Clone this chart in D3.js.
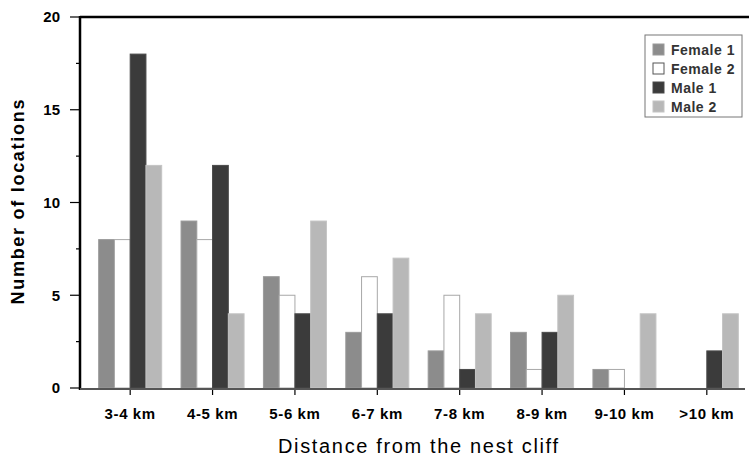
<!DOCTYPE html>
<html>
<head>
<meta charset="utf-8">
<style>
  body { margin: 0; background: #fff; }
  svg { display: block; font-family: "Liberation Sans", Arial, sans-serif; }
</style>
</head>
<body>
<svg></svg>
<script src="https://cdnjs.cloudflare.com/ajax/libs/d3/7.8.5/d3.min.js"></script>
<script>
    // data
    let categories = ["3-4 km", "4-5 km", "5-6 km", "6-7 km", "7-8 km", "8-9 km", "9-10 km", ">10 km"];
    let seriesNames = ["Female 1", "Female 2", "Male 1", "Male 2"];
    let female1 = [8, 9, 6, 3, 2, 3, 1, 0];
    let female2 = [8, 8, 5, 6, 5, 1, 1, 0];
    let male1 = [18, 12, 4, 4, 1, 3, 0, 2];
    let male2 = [12, 4, 9, 7, 4, 5, 4, 4];
    let yTicks = [0, 5, 10, 15, 20];

    let width = 749, height = 457;
    let svg = d3.select("svg").attr("width", width).attr("height", height);

    let series = [female1, female2, male1, male2];
    let fills = ["#8c8c8c", "#ffffff", "#3b3b3b", "#b8b8b8"];
    let strokes = ["#9a9a9a", "#a8a8a8", "#4a4a4a", "#c4c4c4"];

    let x0 = d3.scaleBand().domain(categories).range([89, 748])
        .paddingInner(0.235).paddingOuter(0.1175);
    let x1 = d3.scaleBand().domain(seriesNames).range([0, x0.bandwidth()]);
    let y = d3.scaleLinear().domain([0, 20]).range([388, 17]);

    // bars
    let groups = svg.append("g").selectAll("g")
        .data(categories)
        .enter().append("g")
        .attr("transform", d => "translate(" + x0(d) + ",0)");

    groups.selectAll("rect")
        .data((d, i) => seriesNames.map((s, j) => ({ s: s, j: j, v: series[j][i] })))
        .enter().append("rect")
        .attr("x", d => x1(d.s))
        .attr("y", d => y(d.v))
        .attr("width", x1.bandwidth())
        .attr("height", d => y(0) - y(d.v))
        .attr("fill", d => fills[d.j])
        .attr("stroke", d => strokes[d.j])
        .attr("stroke-width", 1);

    // frame: top line
    svg.append("line")
        .attr("x1", 80).attr("x2", 749)
        .attr("y1", y(20)).attr("y2", y(20))
        .attr("stroke", "#000").attr("stroke-width", 2.5);

    // y axis
    let yAxis = svg.append("g").attr("transform", "translate(80,0)");
    yAxis.append("line")
        .attr("x1", 0).attr("x2", 0).attr("y1", y(20) - 1).attr("y2", y(0) + 2)
        .attr("stroke", "#000").attr("stroke-width", 2.5);
    yAxis.selectAll(".minor")
        .data(d3.range(2.5, 20, 5))
        .enter().append("line")
        .attr("x1", -4).attr("x2", 0)
        .attr("y1", d => y(d)).attr("y2", d => y(d))
        .attr("stroke", "#000").attr("stroke-width", 1.2);
    yAxis.selectAll(".major")
        .data(yTicks)
        .enter().append("line")
        .attr("x1", -10).attr("x2", 0)
        .attr("y1", d => y(d)).attr("y2", d => y(d))
        .attr("stroke", "#000").attr("stroke-width", 1.2);
    yAxis.selectAll("text")
        .data(yTicks)
        .enter().append("text")
        .attr("x", -20).attr("y", d => y(d))
        .attr("dy", "0.36em")
        .attr("text-anchor", "end")
        .attr("font-size", 15).attr("font-weight", "bold")
        .text(d => d);

    svg.append("text")
        .attr("transform", "translate(24,202) rotate(-90)")
        .attr("text-anchor", "middle")
        .attr("font-size", 18).attr("font-weight", "bold")
        .attr("textLength", 205).attr("lengthAdjust", "spacing")
        .text("Number of locations");

    // x axis
    svg.append("line")
        .attr("x1", 80).attr("x2", 745)
        .attr("y1", y(0) + 1).attr("y2", y(0) + 1)
        .attr("stroke", "#555").attr("stroke-width", 2);
    let xAxis = svg.append("g").attr("transform", "translate(0," + (y(0) + 2) + ")");
    xAxis.selectAll("line")
        .data(categories)
        .enter().append("line")
        .attr("x1", d => x0(d) + x0.bandwidth() / 2)
        .attr("x2", d => x0(d) + x0.bandwidth() / 2)
        .attr("y1", 0).attr("y2", 5)
        .attr("stroke", "#000").attr("stroke-width", 1.2);
    xAxis.selectAll("text")
        .data(categories)
        .enter().append("text")
        .attr("x", d => x0(d) + x0.bandwidth() / 2)
        .attr("y", 29)
        .attr("text-anchor", "middle")
        .attr("font-size", 15).attr("font-weight", "bold")
        .attr("letter-spacing", 0.6)
        .text(d => d);

    svg.append("text")
        .attr("x", 418).attr("y", 453)
        .attr("text-anchor", "middle")
        .attr("font-size", 20)
        .attr("textLength", 280).attr("lengthAdjust", "spacing")
        .text("Distance from the nest cliff");

    // legend
    let legend = svg.append("g").attr("transform", "translate(645,35)");
    legend.append("rect")
        .attr("width", 97).attr("height", 82)
        .attr("fill", "#fff").attr("stroke", "#777").attr("stroke-width", 1);
    let items = legend.selectAll(".item")
        .data(seriesNames)
        .enter().append("g")
        .attr("transform", (d, i) => "translate(8," + (15 + i * 19) + ")");
    items.append("rect")
        .attr("x", 0).attr("y", -6).attr("width", 11).attr("height", 11)
        .attr("fill", (d, i) => fills[i])
        .attr("stroke", (d, i) => i == 1 ? "#555" : strokes[i]);
    items.append("text")
        .attr("x", 18).attr("y", 0).attr("dy", "0.36em")
        .attr("font-size", 14).attr("font-weight", "bold")
        .attr("letter-spacing", 0.5)
        .attr("fill", "#333")
        .text(d => d);
</script>
</body>
</html>
